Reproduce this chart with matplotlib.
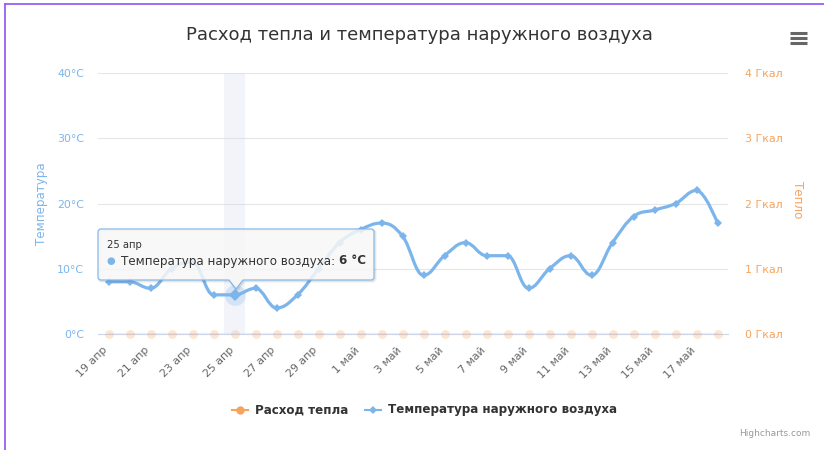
import matplotlib
matplotlib.use("Agg")
import matplotlib.pyplot as plt
from matplotlib.path import Path
from matplotlib.patches import PathPatch, Rectangle
from matplotlib.lines import Line2D
from matplotlib.transforms import Affine2D, ScaledTranslation

# ---- data -------------------------------------------------------------
days = ["19 апр", "20 апр", "21 апр", "22 апр", "23 апр", "24 апр", "25 апр",
        "26 апр", "27 апр", "28 апр", "29 апр", "30 апр",
        "1 май", "2 май", "3 май", "4 май", "5 май", "6 май", "7 май",
        "8 май", "9 май", "10 май", "11 май", "12 май", "13 май", "14 май",
        "15 май", "16 май", "17 май", "18 май"]
temperature = [8, 8, 7, 10, 11, 6, 6, 7, 4, 6, 10, 14, 16, 17, 15,
               9, 12, 14, 12, 12, 7, 10, 12, 9, 14, 18, 19, 20, 22, 17]
heat = [0, 0, 0, 0, 0, 0, 0, 0, 0, 0, 0, 0, 0, 0, 0,
        0, 0, 0, 0, 0, 0, 0, 0, 0, 0, 0, 0, 0, 0, 0]
temp_ticks = [0, 10, 20, 30, 40]
heat_ticks = [0, 1, 2, 3, 4]
hover_index = 6

W, H = 824, 450
BLUE = "#7cb5ec"
ORANGE = "#f7a35c"

plt.rcParams["font.family"] = ["DejaVu Sans"]
fig = plt.figure(figsize=(W / 100, H / 100), dpi=100)
PX = Affine2D().scale(1, -1).translate(0, H)   # top-left pixel coordinates


def spline_path(xs, ys, smoothing=1.5):
    """Cubic path with the same control point rule as a Highcharts spline."""
    n = len(xs)
    verts = [(xs[0], ys[0])]
    codes = [Path.MOVETO]
    right = (xs[0], ys[0])
    for i in range(1, n):
        x, y = xs[i], ys[i]
        lx, ly = xs[i - 1], ys[i - 1]
        if i < n - 1:
            nx, ny = xs[i + 1], ys[i + 1]
            d = smoothing + 1
            lcx = (smoothing * x + lx) / d
            lcy = (smoothing * y + ly) / d
            rcx = (smoothing * x + nx) / d
            rcy = (smoothing * y + ny) / d
            corr = 0.0
            if rcx != lcx:
                corr = ((rcy - lcy) * (rcx - x)) / (rcx - lcx) + y - rcy
            lcy += corr
            rcy += corr
            if lcy > ly and lcy > y:
                lcy = max(ly, y); rcy = 2 * y - lcy
            elif lcy < ly and lcy < y:
                lcy = min(ly, y); rcy = 2 * y - lcy
            if rcy > ny and rcy > y:
                rcy = max(ny, y); lcy = 2 * y - rcy
            elif rcy < ny and rcy < y:
                rcy = min(ny, y); lcy = 2 * y - rcy
            left = (lcx, lcy)
            new_right = (rcx, rcy)
        else:
            left = (x, y)
            new_right = (x, y)
        verts += [right, left, (x, y)]
        codes += [Path.CURVE4] * 3
        right = new_right
    return Path(verts, codes)


# ---- axes -------------------------------------------------------------
plot_l, plot_r, plot_t, plot_b = 98, 728, 73, 334
rect = [plot_l / W, 1 - plot_b / H, (plot_r - plot_l) / W, (plot_b - plot_t) / H]
ax2 = fig.add_axes(rect)
ax = fig.add_axes(rect, sharex=ax2)
ax.set_zorder(2)
ax.patch.set_visible(False)

x = list(range(len(days)))
ax.set_xlim(-0.5, len(days) - 0.5)
ax.set_ylim(temp_ticks[0], temp_ticks[-1])
ax2.set_ylim(heat_ticks[0], heat_ticks[-1])

for a in (ax, ax2):
    for s in a.spines.values():
        s.set_visible(False)
ax2.spines["bottom"].set_visible(True)
ax2.spines["bottom"].set_color("#ccd6eb")
ax2.spines["bottom"].set_linewidth(0.8)

# horizontal grid
for v in heat_ticks[1:]:
    ax2.axhline(v, color="#e6e6e6", lw=0.8, zorder=0)

# hover crosshair band
ax.add_patch(Rectangle((hover_index - 0.5, temp_ticks[0]), 1, temp_ticks[-1] - temp_ticks[0],
                       facecolor=(204 / 255, 214 / 255, 235 / 255, 0.25),
                       edgecolor="none", zorder=0))

# heat series (dimmed)
ax2.plot(x, heat, color=ORANGE, lw=1.5, alpha=0.2, zorder=2, clip_on=False)
ax2.plot(x, heat, linestyle="none", marker="o", ms=6.4, color=ORANGE,
         alpha=0.26, markeredgewidth=0, zorder=3, clip_on=False)

# temperature series
ax.add_patch(PathPatch(spline_path(x, temperature), facecolor="none",
                       edgecolor=BLUE, lw=2.3, capstyle="round",
                       joinstyle="round", zorder=3))
ax.plot(x, temperature, linestyle="none", marker="D", ms=4.2, color=BLUE,
        markeredgewidth=0, zorder=4)
ax.plot([hover_index], [temperature[hover_index]], linestyle="none", marker="o",
        ms=15, color=BLUE, alpha=0.25, markeredgewidth=0, zorder=4)
ax.plot([hover_index], [temperature[hover_index]], linestyle="none", marker="D",
        ms=6.0, color=BLUE, markeredgewidth=0, zorder=5)

# ticks
tick_idx = list(range(0, len(days), 2))
ax2.set_xticks(tick_idx)
ax2.set_xticklabels([days[i] for i in tick_idx], rotation=45, ha="right",
                    va="top", rotation_mode="anchor", color="#666666",
                    fontsize=7.9)
ax2.tick_params(axis="x", length=0, pad=5)
shift = ScaledTranslation(-6 / 100, -4 / 100, fig.dpi_scale_trans)
for lab in ax2.get_xticklabels():
    lab.set_transform(lab.get_transform() + shift)
ax.tick_params(axis="x", length=0, labelbottom=False)

ax.set_yticks(temp_ticks)
ax.set_yticklabels([f"{v}°C" for v in temp_ticks], color=BLUE, fontsize=7.9)
ax.tick_params(axis="y", length=0, pad=10)
ax2.yaxis.tick_right()
ax2.set_yticks(heat_ticks)
ax2.set_yticklabels([f"{v} Гкал" for v in heat_ticks], color=ORANGE, fontsize=7.9)
ax2.tick_params(axis="y", length=0, pad=12)

# ---- texts ------------------------------------------------------------
fig.text(419, 35, "Расход тепла и температура наружного воздуха", transform=PX,
         ha="center", va="center", fontsize=13, color="#333333")
fig.text(41, 204, "Температура", transform=PX, rotation=90, ha="center",
         va="center", fontsize=8.6, color=BLUE)
fig.text(797, 200, "Тепло", transform=PX, rotation=270, ha="center",
         va="center", fontsize=8.6, color=ORANGE)
fig.text(810, 433, "Highcharts.com", transform=PX, ha="right", va="center",
         fontsize=6.5, color="#999999")

# menu icon
for yy in (33, 38, 43):
    fig.add_artist(Line2D([790, 807], [yy, yy], transform=PX, color="#666666",
                          lw=2.2, solid_capstyle="butt"))

# frame lines
fig.add_artist(Line2D([5, 5], [4, H], transform=PX, color="#9b5cf2", lw=1.3))
fig.add_artist(Line2D([5, W], [4, 4], transform=PX, color="#9b5cf2", lw=1.3))

# legend
ly = 410
fig.add_artist(Line2D([232, 248], [ly, ly], transform=PX, color=ORANGE, lw=1.5))
fig.add_artist(Line2D([240], [ly], transform=PX, color=ORANGE, marker="o", ms=6,
                      markeredgewidth=0))
fig.text(255, ly, "Расход тепла", transform=PX, ha="left", va="center",
         fontsize=8.6, fontweight="bold", color="#333333")
fig.add_artist(Line2D([365, 381], [ly, ly], transform=PX, color=BLUE, lw=1.5))
fig.add_artist(Line2D([373], [ly], transform=PX, color=BLUE, marker="D", ms=4.5,
                      markeredgewidth=0))
fig.text(388, ly, "Температура наружного воздуха", transform=PX, ha="left",
         va="center", fontsize=8.6, fontweight="bold", color="#333333")

# tooltip with callout
bx0, by0, bx1, by1, r = 98, 229, 374, 280, 3
tipx, tipy = 236, 289
tv = [(bx0 + r, by0), (bx1 - r, by0), (bx1, by0), (bx1, by0 + r),
      (bx1, by1 - r), (bx1, by1), (bx1 - r, by1),
      (tipx + 7, by1), (tipx, tipy), (tipx - 7, by1),
      (bx0 + r, by1), (bx0, by1), (bx0, by1 - r),
      (bx0, by0 + r), (bx0, by0), (bx0 + r, by0), (bx0 + r, by0)]
tc = [Path.MOVETO, Path.LINETO, Path.CURVE3, Path.CURVE3,
      Path.LINETO, Path.CURVE3, Path.CURVE3,
      Path.LINETO, Path.LINETO, Path.LINETO,
      Path.LINETO, Path.CURVE3, Path.CURVE3,
      Path.LINETO, Path.CURVE3, Path.CURVE3, Path.CLOSEPOLY]
tip_path = Path(tv, tc)
for k, a in ((3, 0.025), (2, 0.04), (1, 0.06)):
    fig.add_artist(PathPatch(tip_path, transform=PX + Affine2D().translate(1, -1),
                             facecolor="none", edgecolor="black", lw=k, alpha=a,
                             zorder=5))
fig.add_artist(PathPatch(tip_path, transform=PX,
                         facecolor=(247 / 255, 247 / 255, 247 / 255, 0.85),
                         edgecolor=BLUE, lw=0.8, zorder=6))

fig.text(107, 245, days[hover_index], transform=PX, ha="left", va="center",
         fontsize=7.2, color="#333333", zorder=7)
fig.text(111, 261, "●", transform=PX, ha="center", va="center",
         fontsize=7.2, color=BLUE, zorder=7)
t1 = fig.text(121, 261, "Температура наружного воздуха: ", transform=PX,
              ha="left", va="center", fontsize=8.6, color="#333333", zorder=7)
renderer = fig.canvas.get_renderer()
ext = t1.get_window_extent(renderer)
fig.text(ext.x1, 261, f"{temperature[hover_index]} °C", transform=PX,
         ha="left", va="center", fontsize=8.6, fontweight="bold",
         color="#333333", zorder=7)

fig.savefig("out.png", dpi=100)
